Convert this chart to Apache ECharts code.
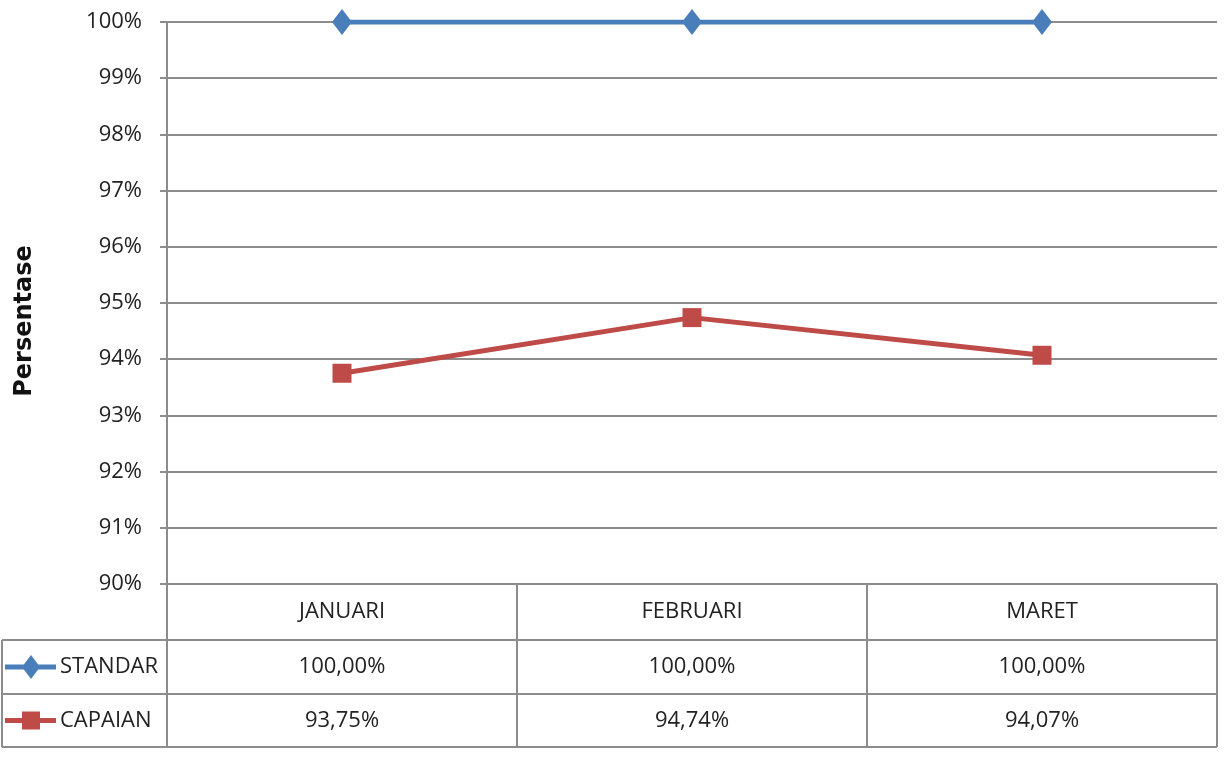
<!DOCTYPE html>
<html lang="en">
<head>
  <meta charset="UTF-8">
  <title>Persentase</title>
  <script src="https://cdn.jsdelivr.net/npm/echarts@6/dist/echarts.min.js"></script>
</head>
<body style="margin:0;background:#fff">
<div id="main" style="width: 1224px; height: 758px"></div>
<script>
  var months = ['JANUARI', 'FEBRUARI', 'MARET'];
  var standar = [100, 100, 100];
  var capaian = [93.75, 94.74, 94.07];
  var yTicks = [90, 91, 92, 93, 94, 95, 96, 97, 98, 99, 100];

  var blue = '#4a7ebb';
  var red = '#be4b48';
  var gridCol = '#8c8c8c';
  var font = "'Liberation Sans Narrow', 'Open Sans', sans-serif";

  var chartDom = document.getElementById('main');
  var myChart = echarts.init(chartDom);

  var option = {
    animation: false,
    grid: { left: 167, top: 22, right: 7, bottom: 174 },
    xAxis: {
      type: 'category',
      data: months,
      boundaryGap: true,
      axisLine: { show: false },
      axisTick: { show: false },
      axisLabel: { show: false }
    },
    yAxis: {
      type: 'value',
      min: yTicks[0],
      max: yTicks[yTicks.length - 1],
      interval: 1,
      name: 'Persentase',
      nameLocation: 'middle',
      nameGap: 130,
      nameTextStyle: { fontFamily: 'DejaVu Sans', fontWeight: 'bold', fontSize: 24, color: '#111', padding: [0, 36, 0, 0] },
      axisLine: { show: true, lineStyle: { color: gridCol, width: 2 } },
      axisTick: { show: true, length: 7, lineStyle: { color: gridCol, width: 2 } },
      axisLabel: {
        margin: 25,
        fontFamily: font, fontSize: 22, color: '#222',
        formatter: function (v) { return v + '%'; }
      },
      splitLine: { show: true, lineStyle: { color: gridCol, width: 2 } }
    },
    series: [
      {
        name: 'STANDAR',
        type: 'line',
        data: standar,
        symbol: 'diamond',
        symbolSize: [20, 26],
        lineStyle: { color: blue, width: 5 },
        itemStyle: { color: blue }
      },
      {
        name: 'CAPAIAN',
        type: 'line',
        data: capaian,
        symbol: 'rect',
        symbolSize: 19,
        lineStyle: { color: red, width: 5 },
        itemStyle: { color: red }
      }
    ]
  };
  myChart.setOption(option);

  // data table under the plot
  function fmt(v) { return v.toFixed(2).replace('.', ',') + '%'; }

  function buildTable() {
    var x0 = myChart.convertToPixel({ xAxisIndex: 0 }, months[0]);
    var x1 = myChart.convertToPixel({ xAxisIndex: 0 }, months[1]);
    var bw = x1 - x0;
    var colLeft = x0 - bw / 2;
    var colRight = colLeft + bw * months.length;
    var tTop = myChart.convertToPixel({ yAxisIndex: 0 }, yTicks[0]);
    var rows = [tTop, tTop + 56, tTop + 110, tTop + 163];
    var tableLeft = 2;
    var els = [];

    function hline(y, a, b) {
      els.push({ type: 'line', shape: { x1: a, y1: y, x2: b, y2: y }, style: { stroke: gridCol, lineWidth: 2 }, z: 10 });
    }
    function vline(x, a, b) {
      els.push({ type: 'line', shape: { x1: x, y1: a, x2: x, y2: b }, style: { stroke: gridCol, lineWidth: 2 }, z: 10 });
    }
    function txt(s, x, y, align) {
      els.push({
        type: 'text', x: x, y: y, z: 11,
        style: { text: s, fill: '#222', fontSize: 22, fontFamily: font, align: align || 'center', verticalAlign: 'middle' }
      });
    }

    hline(rows[1], tableLeft, colRight);
    hline(rows[2], tableLeft, colRight);
    hline(rows[3], tableLeft, colRight);
    vline(tableLeft, rows[1], rows[3]);
    vline(colLeft, rows[0], rows[3]);
    for (var i = 1; i <= months.length; i++) vline(colLeft + bw * i, rows[0], rows[3]);

    months.forEach(function (m, i) {
      var cx = colLeft + bw * (i + 0.5);
      txt(m, cx, (rows[0] + rows[1]) / 2);
      txt(fmt(standar[i]), cx, (rows[1] + rows[2]) / 2);
      txt(fmt(capaian[i]), cx, (rows[2] + rows[3]) / 2);
    });

    // legend keys in the table
    var ky1 = (rows[1] + rows[2]) / 2;
    var ky2 = (rows[2] + rows[3]) / 2;
    els.push({ type: 'line', shape: { x1: 5, y1: ky1, x2: 56, y2: ky1 }, style: { stroke: blue, lineWidth: 5 }, z: 11 });
    els.push({ type: 'polygon', shape: { points: [[31, ky1 - 12], [40, ky1], [31, ky1 + 12], [22, ky1]] }, style: { fill: blue }, z: 12 });
    els.push({ type: 'line', shape: { x1: 5, y1: ky2, x2: 56, y2: ky2 }, style: { stroke: red, lineWidth: 5 }, z: 11 });
    els.push({ type: 'rect', shape: { x: 22, y: ky2 - 9, width: 18, height: 18 }, style: { fill: red }, z: 12 });
    txt('STANDAR', 60, ky1, 'left');
    txt('CAPAIAN', 60, ky2, 'left');

    myChart.setOption({ graphic: { elements: els } });
  }
  buildTable();
</script>
</body>
</html>
